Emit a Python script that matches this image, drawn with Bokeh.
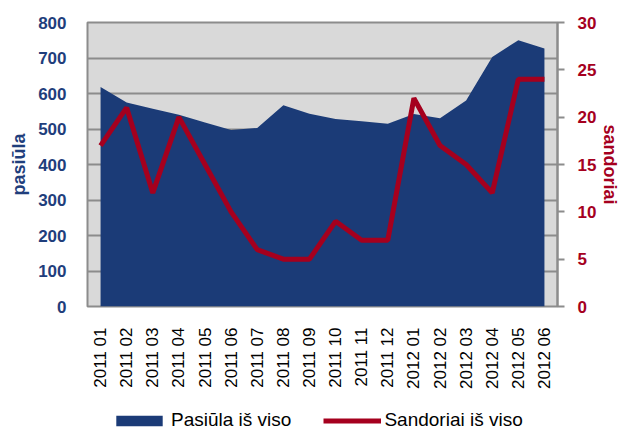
from bokeh.plotting import figure
from bokeh.layouts import column
from bokeh.models import (ColumnDataSource, FactorRange, Range1d, LinearAxis,
                          Legend, LegendItem, SingleIntervalTicker)
from bokeh.embed import file_html
from bokeh.resources import INLINE
import math

months = ["2011 01", "2011 02", "2011 03", "2011 04", "2011 05", "2011 06",
          "2011 07", "2011 08", "2011 09", "2011 10", "2011 11", "2011 12",
          "2012 01", "2012 02", "2012 03", "2012 04", "2012 05", "2012 06"]
pasiula = [618, 575, 557, 540, 518, 497, 503, 567, 543, 528, 522, 515,
           542, 530, 580, 703, 750, 727]
sandoriai = [17, 21, 12, 20, 15, 10, 6, 5, 5, 9, 7, 7,
             22, 17, 15, 12, 24, 24]

BLUE = "#1B3B77"
BLUE_TXT = "#1F3E7C"
RED = "#A5001E"
GRAY = "#8C8C8C"

src = ColumnDataSource(dict(m=months, p=pasiula, s=sandoriai, z=[0] * len(months)))

p = figure(width=624, height=405, output_backend="svg", toolbar_location=None,
           x_range=FactorRange(*months, range_padding=0),
           y_range=Range1d(0, 800),
           min_border_left=87, min_border_right=67, min_border_top=22,
           min_border_bottom=99,
           background_fill_color="#D9D9D9", border_fill_color="white",
           outline_line_color=GRAY, outline_line_width=2)
p.extra_y_ranges = {"right": Range1d(0, 30)}

p.varea(x="m", y1="z", y2="p", source=src, fill_color=BLUE)
p.line(x="m", y="s", source=src, y_range_name="right",
       line_color=RED, line_width=5)

p.xgrid.grid_line_color = None
p.ygrid.grid_line_color = GRAY
p.ygrid.grid_line_width = 2
p.ygrid.ticker = SingleIntervalTicker(interval=100)

# left axis
ya = p.yaxis[0]
ya.ticker = SingleIntervalTicker(interval=100)
ya.axis_line_color = None
ya.major_tick_line_color = None
ya.minor_tick_line_color = None
ya.major_label_standoff = 15
ya.major_label_text_font = "Liberation Sans"
ya.major_label_text_font_style = "bold"
ya.major_label_text_font_size = "17px"
ya.major_label_text_color = BLUE_TXT
ya.axis_label = "pasiūla"
ya.axis_label_text_font = "Liberation Sans"
ya.axis_label_text_font_style = "bold"
ya.axis_label_text_font_size = "18px"
ya.axis_label_text_color = BLUE_TXT
ya.axis_label_standoff = 6

# right axis
ra = LinearAxis(y_range_name="right", ticker=SingleIntervalTicker(interval=5))
ra.axis_line_color = GRAY
ra.axis_line_width = 2
ra.major_tick_line_color = GRAY
ra.major_tick_line_width = 2
ra.major_tick_out = 7
ra.major_tick_in = 0
ra.minor_tick_line_color = None
ra.major_label_standoff = 13
ra.major_label_text_font = "Liberation Sans"
ra.major_label_text_font_style = "bold"
ra.major_label_text_font_size = "17px"
ra.major_label_text_color = RED
ra.axis_label = "sandoriai"
ra.axis_label_text_font = "Liberation Sans"
ra.axis_label_text_font_style = "bold"
ra.axis_label_text_font_size = "18px"
ra.axis_label_text_color = RED
ra.axis_label_standoff = 1
p.add_layout(ra, "right")

# x axis
xa = p.xaxis[0]
xa.axis_line_color = None
xa.major_tick_line_color = None
xa.minor_tick_line_color = None
xa.major_label_orientation = math.pi / 2
xa.major_label_standoff = 15
xa.major_label_text_font = "Liberation Sans"
xa.major_label_text_font_size = "17px"
xa.major_label_text_color = "black"

# legend strip below the chart (same series; its ranges keep the marks out of view)
lg = figure(width=624, height=26, output_backend="svg", toolbar_location=None,
            x_range=FactorRange(*months, range_padding=0),
            y_range=Range1d(-20, -10), x_axis_type=None, y_axis_type=None,
            min_border_left=0, min_border_right=0, min_border_top=0,
            min_border_bottom=0, outline_line_color=None,
            background_fill_color="white", border_fill_color="white")
lg.xgrid.grid_line_color = None
lg.ygrid.grid_line_color = None
lg_area = lg.varea(x="m", y1="z", y2="p", source=src, fill_color=BLUE)
lg_line = lg.line(x="m", y="s", source=src, line_color=RED, line_width=5)

legend = Legend(items=[LegendItem(label="Pasiūla iš viso", renderers=[lg_area]),
                       LegendItem(label="Sandoriai iš viso", renderers=[lg_line])],
                orientation="horizontal", location=(23, 0),
                label_text_font="Liberation Sans", label_text_font_size="19px",
                label_text_color="black", glyph_width=58, glyph_height=13,
                label_standoff=3, spacing=32, padding=0, margin=0,
                border_line_color=None, background_fill_alpha=0)
lg.add_layout(legend, "center")

layout = column(p, lg, spacing=0)
open("out.html", "w").write(file_html(layout, INLINE))
